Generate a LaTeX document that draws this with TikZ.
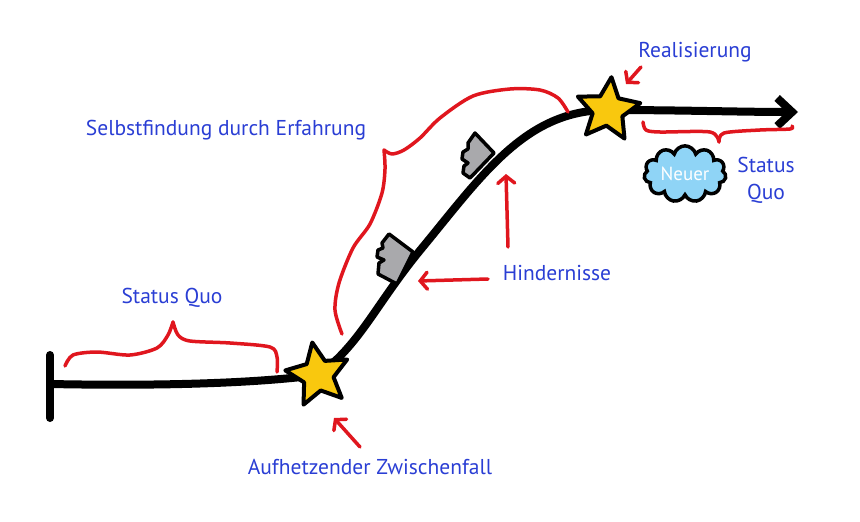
\documentclass[tikz,border=0pt]{standalone}
\usepackage{fontspec}
\setmainfont{PT Sans}
\usetikzlibrary{arrows.meta,positioning,shapes,backgrounds}
\definecolor{pen}{HTML}{E0161E}
\definecolor{ink}{HTML}{2A3ED4}
\definecolor{skyfill}{HTML}{8FD4F6}
\definecolor{stargold}{HTML}{F9C80E}
\definecolor{rockgray}{HTML}{A9A9AC}
\tikzset{
  track/.style={line width=8pt, line cap=round, line join=round},
  starnode/.style={star, star points=5, star point ratio=2.1, minimum size=66pt, inner sep=0pt, draw, line width=4pt, fill=stargold, line join=round},
  rock/.style={draw, line width=3.5pt, fill=rockgray, line join=round},
  brace/.style={draw=pen, line width=3.5pt, line cap=round, line join=round},
  pointer/.style={draw=pen, line width=3.5pt, line cap=round, -{Straight Barb[length=7pt,width=17pt,line cap=round]}},
  lbl/.style={text=ink, font=\fontsize{21.5}{27}\selectfont, inner sep=1pt, align=center},
}

\begin{document}
\begin{tikzpicture}[x=1pt, y=-1pt]
  \useasboundingbox (0,0) rectangle (860,522);

  % STARS
  \node[starnode, rotate=10] (incite) at (318,375) {};
  \node[starnode, rotate=-6] (real) at (608,110) {};

  % TRACK
  \begin{scope}[on background layer]
    \coordinate (start) at (50,384);
    \coordinate (bend) at (422,248);
    \coordinate (goal) at (798,112);
    \draw[track] (50,355) -- (50,418);
    \draw[track] (start) .. controls (150,386) and (250,384) .. (incite.center);
    \draw[track] (incite.center) .. controls (360,345) and (375,305) .. (bend)
      .. controls (483,174) and (526,110) .. (real.center);
    \draw[track, -{Straight Barb[length=15pt,width=28pt]}] (real.center) .. controls (680,110) and (740,112) .. (goal);
  \end{scope}

  % OBSTACLES
  \draw[rock] (389,234) -- (413,252) -- (397,284) -- (378,274) -- (379,263) -- (384,260)
    -- (377,257) -- (378,250) -- (383,248) -- (382,243) -- cycle;
  \draw[rock] (475,133) -- (494,153) -- (470,178) -- (463,173) -- (464,166) -- (468,163)
    -- (462,159) -- (463,152) -- (468,149) -- (468,143) -- cycle;

  % BRACES
  \draw[brace] plot[smooth] coordinates {(65,366) (73,355) (97,352) (130,355) (157,348) (168,335) (173,322)};
  \draw[brace] plot[smooth] coordinates {(173,322) (178,335) (190,341) (230,343) (270,347) (277,357) (277,372)};
  \draw[brace] plot[smooth] coordinates {(342,334) (335,310) (339,283) (353,248) (370,224) (382,193) (385,169) (384,150)};
  \draw[brace] plot[smooth] coordinates {(384,150) (392,154) (404,150) (420,138) (440,118) (473,96) (510,89) (540,90) (558,98) (568,112)};
  \draw[brace] plot[smooth] coordinates {(643,122) (646,130) (660,132) (710,132) (719,142)};
  \draw[brace] plot[smooth] coordinates {(719,142) (724,133) (760,130) (790,129) (792,126)};

  % LABELS
  \node[lbl] (realis) at (695,52) {Realisierung};
  \node[lbl] (newsq) at (766,180) {Status\\Quo};
  \node[cloud, cloud puffs=11, aspect=1.6, draw, line width=3.5pt, fill=skyfill, text=white,
    minimum width=82pt, minimum height=54pt, inner sep=0pt,
    font=\fontsize{19}{22}\selectfont] (puff) at (685,174) {Neuer};
  \node[lbl] (oldsq) at (172,298) {Status Quo};
  \node[lbl] (self) at (226,130) {Selbstfindung durch Erfahrung};
  \node[lbl] (hind) at (557,273) {Hindernisse};
  \node[lbl] (inc) at (370,467) {Aufhetzender Zwischenfall};

  % POINTERS
  \coordinate (realtail) at (641,67);
  \coordinate (realtip) at (626,84);
  \coordinate (inctail) at (360,447);
  \coordinate (inctip) at (334,418);
  \coordinate (uptail) at (508,247);
  \coordinate (uptip) at (506,174);
  \coordinate (lefttail) at (488,279);
  \coordinate (lefttip) at (418,281);
  \draw[pointer] (realtail) -- (realtip);
  \draw[pointer] (inctail) -- (inctip);
  \draw[pointer] (uptail) -- (uptip);
  \draw[pointer] (lefttail) -- (lefttip);

\end{tikzpicture}
\end{document}
